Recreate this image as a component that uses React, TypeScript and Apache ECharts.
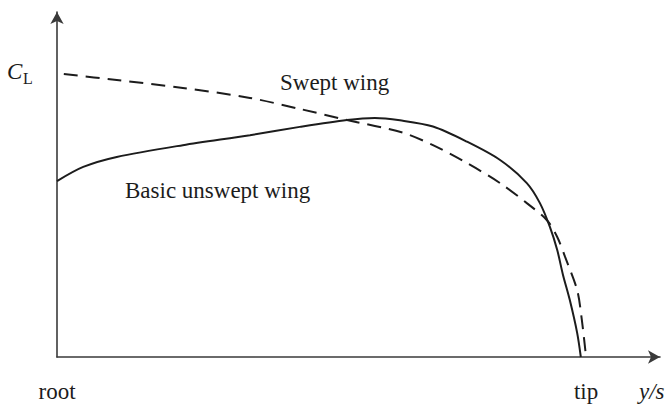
import React, { useEffect, useRef } from "react";
import * as echarts from "echarts";

// Spanwise position (0 = root, 100 = tip) and lift coefficient (arbitrary units)
const sweptX = [1.3, 11.4, 24.0, 36.8, 46.3, 55.3, 66.0, 71.7, 78.2, 84.5, 89.6, 93.4, 95.4, 96.9, 99.2, 100.1, 100.9];
const sweptCL = [82.0, 80.3, 78.0, 75.1, 71.9, 68.7, 65.0, 61.4, 56.2, 50.4, 44.6, 39.7, 34.8, 29.0, 19.4, 10.7, 0];

const unsweptX = [0, 5.0, 11.4, 24.0, 36.8, 46.3, 55.3, 60.6, 65.4, 71.7, 78.2, 84.5, 89.6, 92.1, 94.0, 95.4, 96.5, 97.8, 99.2, 99.9];
const unsweptCL = [51.0, 55.1, 58.0, 61.4, 64.3, 66.7, 68.7, 69.3, 68.6, 66.8, 62.4, 57.1, 50.4, 44.6, 37.7, 31.0, 23.8, 16.5, 7.0, 0];

const tickPositions = [0, 100.9];
const tickLabels = ["root", "tip"];

const SERIF = "'Liberation Serif', 'DejaVu Serif', serif";
const INK = "#1c1c1c";

function zip(xs: number[], ys: number[]) {
  return xs.map((x, i) => [x, ys[i]]);
}

export default function App() {
  const ref = useRef<HTMLDivElement>(null);

  useEffect(() => {
    if (!ref.current) return;
    const chart = echarts.init(ref.current, null, { renderer: "svg" });
    const axisLine = {
      show: true,
      symbol: ["none", "arrow"],
      symbolSize: [10, 12],
      lineStyle: { color: "#3a3a3a", width: 1.6 },
    };
    chart.setOption({
      animation: false,
      backgroundColor: "#ffffff",
      grid: { left: 57, right: 9, top: 12, bottom: 47 },
      xAxis: {
        type: "value",
        min: 0,
        max: 115,
        axisLine,
        axisTick: { show: false },
        splitLine: { show: false },
        axisLabel: {
          customValues: tickPositions,
          formatter: (v: number) => tickLabels[tickPositions.indexOf(v)] ?? "",
          margin: 23,
          fontFamily: SERIF,
          fontSize: 23,
          color: INK,
        },
      },
      yAxis: {
        type: "value",
        min: 0,
        max: 100,
        axisLine,
        axisTick: { show: false },
        splitLine: { show: false },
        axisLabel: { show: false },
      },
      series: [
        {
          name: "Swept wing",
          type: "line",
          data: zip(sweptX, sweptCL),
          smooth: 0.3,
          symbol: "none",
          lineStyle: { color: INK, width: 2, type: [14, 8] },
        },
        {
          name: "Basic unswept wing",
          type: "line",
          data: zip(unsweptX, unsweptCL),
          smooth: 0.3,
          symbol: "none",
          lineStyle: { color: INK, width: 2 },
        },
      ],
      graphic: [
        {
          type: "text",
          left: 7,
          top: 60,
          style: { text: "C", font: `italic 23px ${SERIF}`, fill: INK },
        },
        {
          type: "text",
          left: 23,
          top: 70,
          style: { text: "L", font: `16px ${SERIF}`, fill: INK },
        },
        {
          type: "text",
          left: 280,
          top: 71,
          style: { text: "Swept wing", font: `23px ${SERIF}`, fill: INK },
        },
        {
          type: "text",
          left: 125,
          top: 179,
          style: { text: "Basic unswept wing", font: `23px ${SERIF}`, fill: INK },
        },
        {
          type: "text",
          left: 639,
          top: 380,
          style: { text: "y/s", font: `italic 23px ${SERIF}`, fill: INK },
        },
      ],
    });
    return () => chart.dispose();
  }, []);

  return <div ref={ref} style={{ width: 669, height: 404, position: "absolute", left: 0, top: 0 }} />;
}
